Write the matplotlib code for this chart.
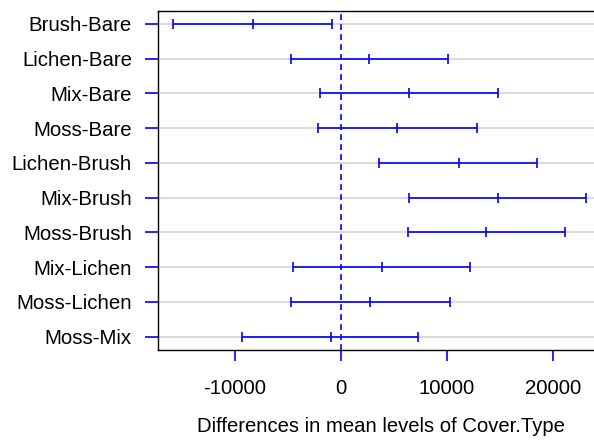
import numpy as np
import matplotlib
matplotlib.use("Agg")
import matplotlib.pyplot as plt

plt.rcParams['font.family'] = ['Liberation Sans', 'DejaVu Sans']

# Tukey HSD style intervals
pairs = ['Brush-Bare', 'Lichen-Bare', 'Mix-Bare', 'Moss-Bare', 'Lichen-Brush',
         'Mix-Brush', 'Moss-Brush', 'Mix-Lichen', 'Moss-Lichen', 'Moss-Mix']
diff = [-8300, 2610, 6415, 5310, 11100, 14780, 13680, 3840, 2740, -940]
lwr = [-15850, -4750, -1950, -2170, 3585, 6385, 6290, -4560, -4750, -9340]
upr = [-820, 10090, 14780, 12830, 18460, 23110, 21160, 12200, 10250, 7300]
xticks = [-10000, 0, 10000, 20000]

fig = plt.figure(figsize=(5.94, 4.44), dpi=100)
# plot region runs a little past the right edge of the figure
ax = fig.add_axes([157.5/594, 1-349.5/444, (603.5-157.5)/594, (349.5-11)/444])

ypos = np.arange(1, len(pairs) + 1)
for y in ypos:
    ax.axhline(y, color='#d8d8d8', lw=1.3, zorder=0)

ax.axvline(0, color='blue', lw=1.2, ls=(0, (3.5, 2.5)), zorder=1)
ax.hlines(ypos, lwr, upr, color='blue', lw=1.2, zorder=2)
for vals in (lwr, upr, diff):
    ax.plot(vals, ypos, ls='none', marker='|', ms=7, mew=1.2, color='blue', zorder=3)

ax.set_xlim(-17311, 24764)
ax.set_ylim(10.37, 0.626)
ax.set_xticks(xticks)
ax.set_xticklabels([str(t) for t in xticks])
ax.set_yticks(ypos)
ax.set_yticklabels(pairs)
ax.tick_params(axis='y', length=9.4, width=1.2, color='blue', pad=9, labelsize=14.7)
ax.tick_params(axis='x', length=8, width=1.2, color='blue', pad=13, labelsize=14.7)
ax.spines['right'].set_visible(False)
for s in ['left', 'top', 'bottom']:
    ax.spines[s].set_linewidth(1)
ax.set_xlabel('Differences in mean levels of Cover.Type', fontsize=14.6, labelpad=14)

fig.savefig('out.png', dpi=100)
